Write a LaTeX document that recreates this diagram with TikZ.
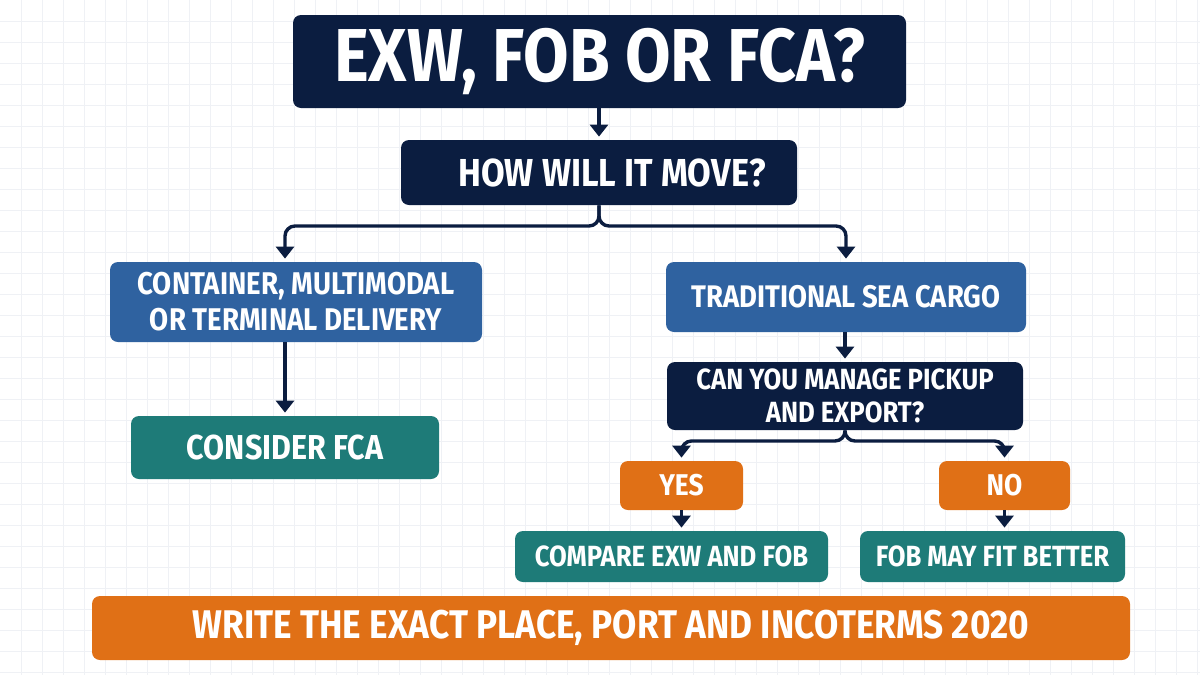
\documentclass[tikz,border=0pt]{standalone}
\usepackage{fontspec}
\newfontfamily\cf{Fira Sans}[FakeStretch=0.88]
\usetikzlibrary{arrows.meta}
\definecolor{navy}{HTML}{0B1D40}
\definecolor{sblue}{HTML}{2F62A0}
\definecolor{steal}{HTML}{1E7B78}
\definecolor{sorange}{HTML}{E07016}
\definecolor{gridc}{HTML}{EFF1F5}
\tikzset{
  box/.style={rounded corners=4pt, text=white, align=center, inner sep=0pt, font=\cf\bfseries},
  navybox/.style={box, fill=navy},
  bluebox/.style={box, fill=sblue},
  tealbox/.style={box, fill=steal},
  orangebox/.style={box, fill=sorange},
  conn/.style={draw=navy, line width=1.7pt, rounded corners=5pt, -{Triangle[width=9pt,length=6pt]}, shorten >=1.5pt},
}
\begin{document}
\begin{tikzpicture}[x=0.5pt,y=-0.5pt]
\useasboundingbox (0,0) rectangle (1200,675);
\fill[white] (0,0) rectangle (1200,675);
\foreach \i in {1,...,57} {\draw[gridc, line width=0.4pt] (\i*21,0) -- (\i*21,675);}
\foreach \j in {1,...,32} {\draw[gridc, line width=0.4pt] (0,\j*21) -- (1200,\j*21);}

\node[navybox, minimum width=306.5pt, minimum height=46.5pt, font=\cf\bfseries\fontsize{37.5}{40}\selectfont] (title) at (599.5,61.5) {EXW, FOB OR FCA?};
\node[navybox, minimum width=198pt, minimum height=32.5pt] (how) at (599,172.5) {};
\node[text=white, inner sep=0pt, font=\cf\bfseries\fontsize{19.5}{21}\selectfont] (howt) at (612,172.5) {HOW WILL IT MOVE?};
\node[bluebox, minimum width=186pt, minimum height=40pt, font=\cf\bfseries\fontsize{15.7}{18}\selectfont] (cont) at (296,302) {CONTAINER, MULTIMODAL\\OR TERMINAL DELIVERY};
\node[tealbox, minimum width=154pt, minimum height=31.5pt, font=\cf\bfseries\fontsize{17.3}{19}\selectfont] (cfca) at (285,447.5) {CONSIDER FCA};
\node[bluebox, minimum width=180pt, minimum height=35pt, font=\cf\bfseries\fontsize{15.6}{18}\selectfont] (trad) at (846,297) {TRADITIONAL SEA CARGO};
\node[navybox, minimum width=178pt, minimum height=34pt, font=\cf\bfseries\fontsize{14.6}{16.5}\selectfont] (can) at (845,396) {CAN YOU MANAGE PICKUP\\AND EXPORT?};
\node[orangebox, minimum width=61.5pt, minimum height=24.5pt, font=\cf\bfseries\fontsize{15}{16}\selectfont] (yes) at (681.5,485.5) {YES};
\node[orangebox, minimum width=65.5pt, minimum height=24.5pt, font=\cf\bfseries\fontsize{15}{16}\selectfont] (no) at (1004.5,485.5) {NO};
\node[tealbox, minimum width=156.5pt, minimum height=25.5pt, font=\cf\bfseries\fontsize{14.6}{16}\selectfont] (cmp) at (671.5,556.5) {COMPARE EXW AND FOB};
\node[tealbox, minimum width=132.5pt, minimum height=25.5pt, font=\cf\bfseries\fontsize{14.6}{16}\selectfont] (fob) at (992.5,556.5) {FOB MAY FIT BETTER};
\node[orangebox, minimum width=519pt, minimum height=32pt, font=\cf\bfseries\fontsize{20}{22}\selectfont] (write) at (611,628) {WRITE THE EXACT PLACE, PORT AND INCOTERMS 2020};

\coordinate (b1) at (599,226);
\coordinate (b2) at (845,441);

\draw[conn] (title.south -| how.north) -- (how.north);
\draw[conn] (how.south) -- (b1) -| (cont.north -| cfca.north);
\draw[conn] (how.south) -- (b1) -| (trad.north);
\draw[conn] (cont.south -| cfca.north) -- (cfca.north);
\draw[conn] (trad.south -| can.north) -- (can.north);
\draw[conn] (can.south) -- (b2) -| (yes.north);
\draw[conn] (can.south) -- (b2) -| (no.north);
\draw[conn] (yes.south) -- (yes.south |- cmp.north);
\draw[conn] (no.south) -- (no.south |- fob.north);
\end{tikzpicture}
\end{document}
